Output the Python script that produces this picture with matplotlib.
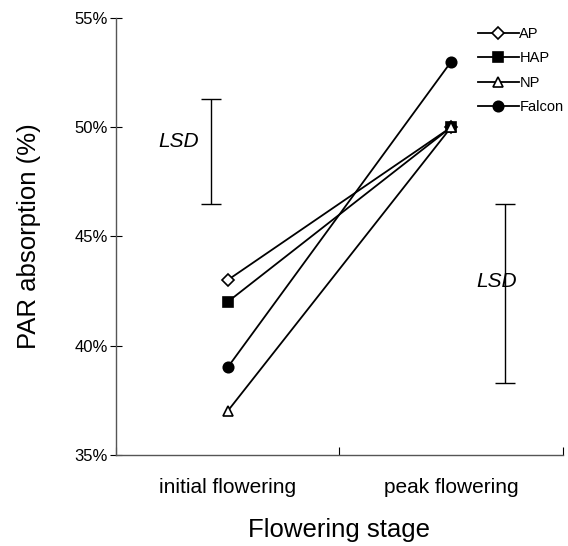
import matplotlib.pyplot as plt
import numpy as np
from matplotlib.ticker import FuncFormatter

plt.rcParams["font.family"] = ["Liberation Sans", "DejaVu Sans"]

stages = ["initial flowering", "peak flowering"]
varieties = ["AP", "HAP", "NP", "Falcon"]
par_ap = [43, 50]
par_hap = [42, 50]
par_np = [37, 50]
par_falcon = [39, 53]

# LSD bars: (x position, lower end, upper end)
lsd_stage1 = (0.425, 46.5, 51.3)
lsd_stage2 = (1.74, 38.3, 46.5)

styles = {
    "AP":     dict(marker="D", mfc="white", ms=6.0),
    "HAP":    dict(marker="s", mfc="black", ms=7.0),
    "NP":     dict(marker="^", mfc="white", ms=7.5),
    "Falcon": dict(marker="o", mfc="black", ms=7.5),
}

x = np.array([0.5, 1.5])
series = [par_ap, par_hap, par_np, par_falcon]

fig = plt.figure(figsize=(5.68, 5.46), dpi=100)
ax = fig.add_axes([0.204, 0.167, 0.787, 0.800])

for name, vals in zip(varieties, series):
    st = styles[name]
    ax.plot(x, vals, color="black", lw=1.3, marker=st["marker"],
            markerfacecolor=st["mfc"], markeredgecolor="black",
            markeredgewidth=1.2, markersize=st["ms"], label=name)

for xpos, lo, hi in (lsd_stage1, lsd_stage2):
    ax.errorbar([xpos], [(lo + hi) / 2], yerr=[[(hi - lo) / 2], [(hi - lo) / 2]],
                fmt="none", ecolor="black", elinewidth=1.0, capsize=7, capthick=1.0)

ax.text(0.282, 49.35, "LSD", fontsize=15, style="italic", ha="center", va="center")
ax.text(1.705, 42.95, "LSD", fontsize=15, style="italic", ha="center", va="center")

ax.set_xlim(0, 2)
ax.set_ylim(35, 55)
ax.set_yticks([35, 40, 45, 50, 55])
ax.yaxis.set_major_formatter(FuncFormatter(lambda v, _: f"{v:.0f}%"))
ax.tick_params(axis="y", direction="inout", length=8, width=0.8, labelsize=12, pad=2)

ax.set_xticks([0, 1, 2])
ax.set_xticklabels([])
ax.tick_params(axis="x", direction="in", length=6, width=0.8)
for xi, lab in zip(x, stages):
    ax.text(xi, -0.075, lab, transform=ax.get_xaxis_transform(),
            ha="center", va="center", fontsize=15)

ax.set_xlabel("Flowering stage", fontsize=18.5, labelpad=42)
ax.set_ylabel("PAR absorption (%)", fontsize=18.5, labelpad=24)

for side in ("top", "right"):
    ax.spines[side].set_visible(False)
for side in ("left", "bottom"):
    ax.spines[side].set_color("#555555")
    ax.spines[side].set_linewidth(1.0)

ax.legend(loc="upper left", bbox_to_anchor=(0.79, 1.0), frameon=False,
          fontsize=10.5, handlelength=2.8, handletextpad=0.05,
          labelspacing=0.72, borderaxespad=0.2)

fig.savefig("out.png", dpi=100)
